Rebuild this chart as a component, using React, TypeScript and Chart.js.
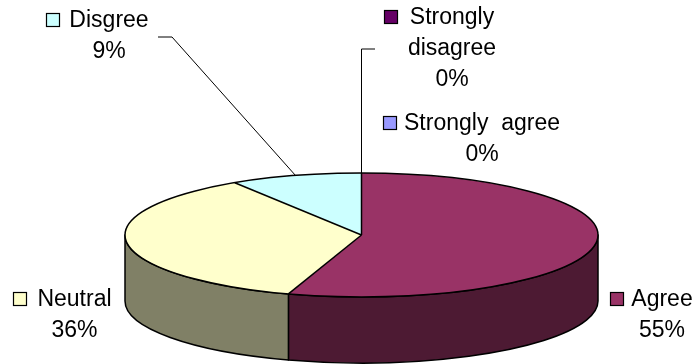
import React, { useEffect, useRef } from "react";
import { Chart, registerables } from "chart.js";

Chart.register(...registerables);

// Survey answers, listed clockwise from 12 o'clock
const categories: (string | string[])[] = [
  "Strongly  agree",
  "Agree",
  "Neutral",
  "Disgree",
  ["Strongly", "disagree"],
];
const responses = [0, 55, 36, 9, 0];
const faceColors = ["#9999FF", "#993366", "#FFFFCC", "#CCFFFF", "#660066"];
const wallColors = ["#4D4D80", "#4D1A33", "#808066", "#668080", "#330033"];

// Label placement: centre x of the text block, baseline of the first line,
// and an optional leader line start (elbow then slice edge).
type LabelSpot = { x: number; y: number; gap: number; leader?: [number, number, number, number] };
const labelSpots: LabelSpot[] = [
  { x: 482, y: 130, gap: 8 },
  { x: 662, y: 306, gap: 8 },
  { x: 74.5, y: 306, gap: 11 },
  { x: 109, y: 27, gap: 10 },
  { x: 452, y: 24, gap: 13 },
];
const leaders: (number[] | null)[] = [null, null, null, [158, 37, 172, 37], [375, 49, 361.5, 49]];

const TILT = 0.262; // vertical squash of the pie disc
const DEPTH = 66; // thickness of the disc in px
const FONT = "23px 'Liberation Sans', Arial, sans-serif";
const LINE_H = 31;

function frontRanges(s: number, e: number): [number, number][] {
  const out: [number, number][] = [];
  for (let k = -2; k <= 2; k++) {
    const a = Math.max(s, 2 * Math.PI * k);
    const b = Math.min(e, 2 * Math.PI * k + Math.PI);
    if (b > a + 1e-6) out.push([a, b]);
  }
  return out;
}

const pie3d = {
  id: "pie3d",
  beforeDatasetsDraw(chart: any) {
    const ctx = chart.ctx as CanvasRenderingContext2D;
    const meta = chart.getDatasetMeta(0);
    const arcs = meta.data as any[];
    if (!arcs.length) return;
    const cx = arcs[0].x;
    const cy = arcs[0].y;
    const rx = arcs[0].outerRadius;
    const ry = rx * TILT;

    // side walls of the front half
    ctx.save();
    ctx.lineWidth = 1.5;
    ctx.strokeStyle = "#000";
    ctx.lineJoin = "round";
    arcs.forEach((arc, i) => {
      const { startAngle, endAngle } = arc.getProps(["startAngle", "endAngle"]);
      if (endAngle - startAngle <= 0) return;
      frontRanges(startAngle, endAngle).forEach(([a, b]) => {
        ctx.beginPath();
        ctx.ellipse(cx, cy, rx, ry, 0, a, b, false);
        ctx.lineTo(cx + rx * Math.cos(b), cy + ry * Math.sin(b) + DEPTH);
        ctx.ellipse(cx, cy + DEPTH, rx, ry, 0, b, a, true);
        ctx.closePath();
        ctx.fillStyle = wallColors[i];
        ctx.fill();
        ctx.stroke();
      });
    });
    ctx.restore();

    // squash the top face drawn by the library
    ctx.save();
    ctx.translate(0, cy);
    ctx.scale(1, TILT);
    ctx.translate(0, -cy);
  },
  afterDatasetsDraw(chart: any) {
    const ctx = chart.ctx as CanvasRenderingContext2D;
    ctx.restore();
    const meta = chart.getDatasetMeta(0);
    const arcs = meta.data as any[];
    if (!arcs.length) return;
    const cx = arcs[0].x;
    const cy = arcs[0].y;
    const rx = arcs[0].outerRadius;
    const ry = rx * TILT;
    const values = chart.data.datasets[0].data as number[];
    const total = values.reduce((s, v) => s + v, 0);

    // top outline and slice edges
    ctx.save();
    ctx.lineWidth = 1.5;
    ctx.strokeStyle = "#000";
    ctx.beginPath();
    ctx.ellipse(cx, cy, rx, ry, 0, 0, Math.PI * 2);
    ctx.stroke();
    arcs.forEach((arc, i) => {
      if (!values[i]) return;
      const { startAngle } = arc.getProps(["startAngle"]);
      ctx.beginPath();
      ctx.moveTo(cx, cy);
      ctx.lineTo(cx + rx * Math.cos(startAngle), cy + ry * Math.sin(startAngle));
      ctx.stroke();
    });
    ctx.restore();

    // data labels with colour keys
    ctx.save();
    ctx.font = FONT;
    ctx.textAlign = "center";
    ctx.textBaseline = "alphabetic";
    arcs.forEach((arc, i) => {
      const spot = labelSpots[i];
      const name = chart.data.labels[i];
      const lines: string[] = Array.isArray(name) ? [...name] : [name];
      lines.push(Math.round((values[i] / total) * 100) + "%");

      const leader = leaders[i];
      if (leader) {
        const { startAngle, endAngle } = arc.getProps(["startAngle", "endAngle"]);
        const mid = (startAngle + endAngle) / 2;
        const [x0, y0, x1, y1] = leader;
        ctx.save();
        ctx.lineWidth = 1;
        ctx.strokeStyle = "#000";
        ctx.beginPath();
        ctx.moveTo(x0, y0);
        ctx.lineTo(x1, y1);
        ctx.lineTo(cx + rx * Math.cos(mid), cy + ry * Math.sin(mid));
        ctx.stroke();
        ctx.restore();
      }

      ctx.fillStyle = "#000";
      lines.forEach((t, j) => ctx.fillText(t, spot.x, spot.y + j * LINE_H));

      const w = ctx.measureText(lines[0]).width;
      const bx = Math.round(spot.x - w / 2 - spot.gap - 13) + 0.5;
      const by = spot.y - 14 + 0.5;
      ctx.fillStyle = faceColors[i];
      ctx.fillRect(bx, by, 13, 13);
      ctx.lineWidth = 1.2;
      ctx.strokeStyle = "#000";
      ctx.strokeRect(bx, by, 13, 13);
    });
    ctx.restore();
  },
};

export default function App() {
  const canvasRef = useRef<HTMLCanvasElement | null>(null);

  useEffect(() => {
    document.body.style.margin = "0";
    const canvas = canvasRef.current;
    if (!canvas) return;
    const chart = new Chart(canvas, {
      type: "pie",
      data: {
        labels: categories as any,
        datasets: [
          {
            data: responses,
            backgroundColor: faceColors,
            borderWidth: 0,
            clip: false as any,
          },
        ],
      },
      options: {
        responsive: false,
        animation: false,
        devicePixelRatio: 1,
        radius: 236.5,
        layout: { padding: { left: 28, right: 0, top: 106, bottom: 0 } },
        plugins: {
          legend: { display: false },
          tooltip: { enabled: false },
        },
        events: [],
      } as any,
      plugins: [pie3d],
    });
    return () => chart.destroy();
  }, []);

  return (
    <div style={{ position: "absolute", left: 0, top: 0, width: 695, height: 364, background: "#fff" }}>
      <canvas ref={canvasRef} width={695} height={364} />
    </div>
  );
}
